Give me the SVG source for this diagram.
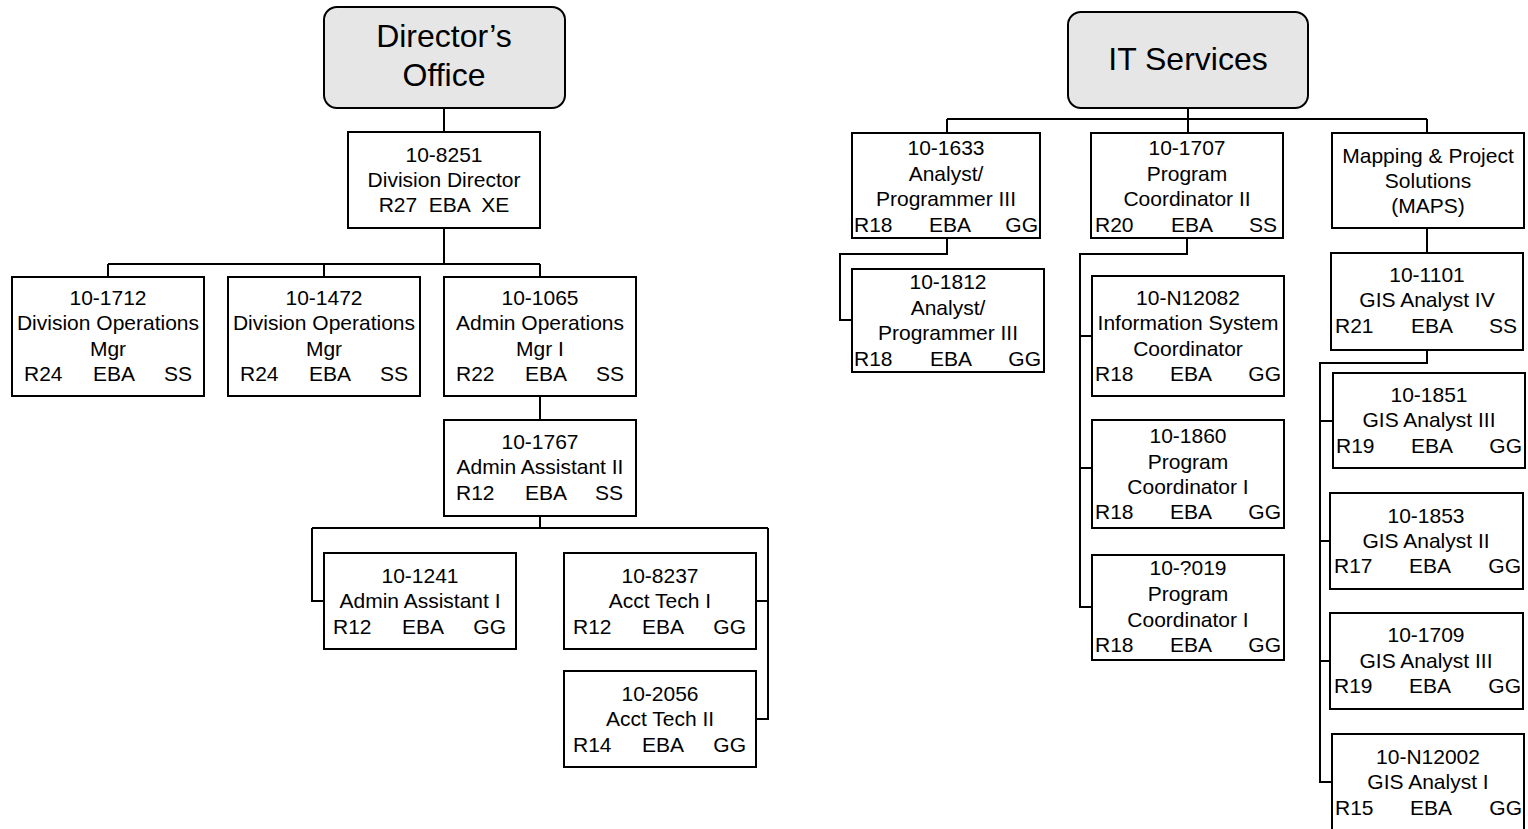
<svg xmlns="http://www.w3.org/2000/svg" width="1528" height="829" viewBox="0 0 1528 829">
<style>
.bx{fill:#fff;stroke:#000;stroke-width:2}
.hd{fill:#e6e6e6;stroke:#000;stroke-width:2}
.t{font-family:"Liberation Sans",Arial,sans-serif;font-size:21px;fill:#000}
.c{text-anchor:middle}
.e{text-anchor:end}
.h{font-family:"Liberation Sans",Arial,sans-serif;font-size:32px;fill:#000;text-anchor:middle}
.ln{fill:none;stroke:#000;stroke-width:2}
.pre{white-space:pre}
</style>
<rect width="1528" height="829" fill="#fff"/>
<g id="connectors" class="ln">
<path d="M444 108V132"/>
<path d="M444 228V264M108 264H540M108 264V277M324 264V277M540 264V277"/>
<path d="M540 396V420"/>
<path d="M540 516V528M312 528H768M312 528V601H324M768 528V719H756M768 601H756"/>
<path d="M1188 108V119M947 119H1427M947 119V133M1188 119V133M1427 119V133"/>
<path d="M947 238V254H840V320H852"/>
<path d="M1187 238V254H1080V607H1092M1080 336H1092M1080 468H1092"/>
<path d="M1427 228V253"/>
<path d="M1427 350V363H1320V782H1331M1320 421H1333M1320 541H1330M1320 661H1330"/>
</g>
<g id="directors-office"><rect class="hd" x="324" y="7" width="241" height="101" rx="13"/><text class="h" x="444" y="47">Director’s</text><text class="h" x="444" y="86">Office</text></g>
<g id="n10-8251"><rect class="bx" x="348" y="132" width="192" height="96"/><text class="t c" x="444" y="161.5">10-8251</text><text class="t c" x="444" y="186.5">Division Director</text><text class="t c pre" x="444" y="211.5" xml:space="preserve">R27  EBA  XE</text></g>
<g id="n10-1712"><rect class="bx" x="12" y="277" width="192" height="119"/><text class="t c" x="108" y="304.5">10-1712</text><text class="t c" x="108" y="329.5">Division Operations</text><text class="t c" x="108" y="355.5">Mgr</text><text class="t" x="24" y="380.5">R24</text><text class="t" x="93" y="380.5">EBA</text><text class="t e" x="192" y="380.5">SS</text></g>
<g id="n10-1472"><rect class="bx" x="228" y="277" width="192" height="119"/><text class="t c" x="324" y="304.5">10-1472</text><text class="t c" x="324" y="329.5">Division Operations</text><text class="t c" x="324" y="355.5">Mgr</text><text class="t" x="240" y="380.5">R24</text><text class="t" x="309" y="380.5">EBA</text><text class="t e" x="408" y="380.5">SS</text></g>
<g id="n10-1065"><rect class="bx" x="444" y="277" width="192" height="119"/><text class="t c" x="540" y="304.5">10-1065</text><text class="t c" x="540" y="329.5">Admin Operations</text><text class="t c" x="540" y="355.5">Mgr I</text><text class="t" x="456" y="380.5">R22</text><text class="t" x="525" y="380.5">EBA</text><text class="t e" x="624" y="380.5">SS</text></g>
<g id="n10-1767"><rect class="bx" x="444" y="420" width="192" height="96"/><text class="t c" x="540" y="448.5">10-1767</text><text class="t c" x="540" y="473.5">Admin Assistant II</text><text class="t" x="456" y="499.5">R12</text><text class="t" x="525" y="499.5">EBA</text><text class="t e" x="623" y="499.5">SS</text></g>
<g id="n10-1241"><rect class="bx" x="324" y="553" width="192" height="96"/><text class="t c" x="420" y="582.5">10-1241</text><text class="t c" x="420" y="607.5">Admin Assistant I</text><text class="t" x="333" y="633.5">R12</text><text class="t" x="402" y="633.5">EBA</text><text class="t e" x="506" y="633.5">GG</text></g>
<g id="n10-8237"><rect class="bx" x="564" y="553" width="192" height="96"/><text class="t c" x="660" y="582.5">10-8237</text><text class="t c" x="660" y="607.5">Acct Tech I</text><text class="t" x="573" y="633.5">R12</text><text class="t" x="642" y="633.5">EBA</text><text class="t e" x="746" y="633.5">GG</text></g>
<g id="n10-2056"><rect class="bx" x="564" y="671" width="192" height="96"/><text class="t c" x="660" y="700.5">10-2056</text><text class="t c" x="660" y="725.5">Acct Tech II</text><text class="t" x="573" y="751.5">R14</text><text class="t" x="642" y="751.5">EBA</text><text class="t e" x="746" y="751.5">GG</text></g>
<g id="it-services"><rect class="hd" x="1068" y="12" width="240" height="96" rx="13"/><text class="h" x="1188" y="70">IT Services</text></g>
<g id="n10-1633"><rect class="bx" x="852" y="133" width="188" height="105"/><text class="t c" x="946" y="154.5">10-1633</text><text class="t c" x="946" y="180.5">Analyst/</text><text class="t c" x="946" y="205.5">Programmer III</text><text class="t" x="854" y="231.5">R18</text><text class="t" x="929" y="231.5">EBA</text><text class="t e" x="1038" y="231.5">GG</text></g>
<g id="n10-1707"><rect class="bx" x="1091" y="133" width="192" height="105"/><text class="t c" x="1187" y="154.5">10-1707</text><text class="t c" x="1187" y="180.5">Program</text><text class="t c" x="1187" y="205.5">Coordinator II</text><text class="t" x="1095" y="231.5">R20</text><text class="t" x="1171" y="231.5">EBA</text><text class="t e" x="1277" y="231.5">SS</text></g>
<g id="maps"><rect class="bx" x="1332" y="133" width="192" height="95"/><text class="t c" x="1428" y="162.5">Mapping &amp; Project</text><text class="t c" x="1428" y="187.5">Solutions</text><text class="t c" x="1428" y="212.5">(MAPS)</text></g>
<g id="n10-1812"><rect class="bx" x="852" y="269" width="192" height="103"/><text class="t c" x="948" y="288.5">10-1812</text><text class="t c" x="948" y="314.5">Analyst/</text><text class="t c" x="948" y="339.5">Programmer III</text><text class="t" x="854" y="365.5">R18</text><text class="t" x="930" y="365.5">EBA</text><text class="t e" x="1041" y="365.5">GG</text></g>
<g id="n10-N12082"><rect class="bx" x="1092" y="276" width="192" height="120"/><text class="t c" x="1188" y="304.5">10-N12082</text><text class="t c" x="1188" y="329.5">Information System</text><text class="t c" x="1188" y="355.5">Coordinator</text><text class="t" x="1095" y="380.5">R18</text><text class="t" x="1170" y="380.5">EBA</text><text class="t e" x="1281" y="380.5">GG</text></g>
<g id="n10-1860"><rect class="bx" x="1092" y="420" width="192" height="108"/><text class="t c" x="1188" y="442.5">10-1860</text><text class="t c" x="1188" y="468.5">Program</text><text class="t c" x="1188" y="493.5">Coordinator I</text><text class="t" x="1095" y="518.5">R18</text><text class="t" x="1170" y="518.5">EBA</text><text class="t e" x="1281" y="518.5">GG</text></g>
<g id="n10-x019"><rect class="bx" x="1092" y="555" width="192" height="105"/><text class="t c" x="1188" y="574.5">10-?019</text><text class="t c" x="1188" y="600.5">Program</text><text class="t c" x="1188" y="626.5">Coordinator I</text><text class="t" x="1095" y="651.5">R18</text><text class="t" x="1170" y="651.5">EBA</text><text class="t e" x="1281" y="651.5">GG</text></g>
<g id="n10-1101"><rect class="bx" x="1331" y="253" width="192" height="97"/><text class="t c" x="1427" y="281.5">10-1101</text><text class="t c" x="1427" y="306.5">GIS Analyst IV</text><text class="t" x="1335" y="332.5">R21</text><text class="t" x="1411" y="332.5">EBA</text><text class="t e" x="1517" y="332.5">SS</text></g>
<g id="n10-1851"><rect class="bx" x="1333" y="373" width="192" height="95"/><text class="t c" x="1429" y="401.5">10-1851</text><text class="t c" x="1429" y="426.5">GIS Analyst III</text><text class="t" x="1336" y="452.5">R19</text><text class="t" x="1411" y="452.5">EBA</text><text class="t e" x="1522" y="452.5">GG</text></g>
<g id="n10-1853"><rect class="bx" x="1330" y="493" width="193" height="96"/><text class="t c" x="1426" y="522.5">10-1853</text><text class="t c" x="1426" y="547.5">GIS Analyst II</text><text class="t" x="1334" y="572.5">R17</text><text class="t" x="1409" y="572.5">EBA</text><text class="t e" x="1521" y="572.5">GG</text></g>
<g id="n10-1709"><rect class="bx" x="1330" y="613" width="193" height="96"/><text class="t c" x="1426" y="641.5">10-1709</text><text class="t c" x="1426" y="667.5">GIS Analyst III</text><text class="t" x="1334" y="692.5">R19</text><text class="t" x="1409" y="692.5">EBA</text><text class="t e" x="1521" y="692.5">GG</text></g>
<g id="n10-N12002"><rect class="bx" x="1332" y="734" width="192" height="110"/><text class="t c" x="1428" y="763.5">10-N12002</text><text class="t c" x="1428" y="788.5">GIS Analyst I</text><text class="t" x="1335" y="814.5">R15</text><text class="t" x="1410" y="814.5">EBA</text><text class="t e" x="1522" y="814.5">GG</text></g>
</svg>
